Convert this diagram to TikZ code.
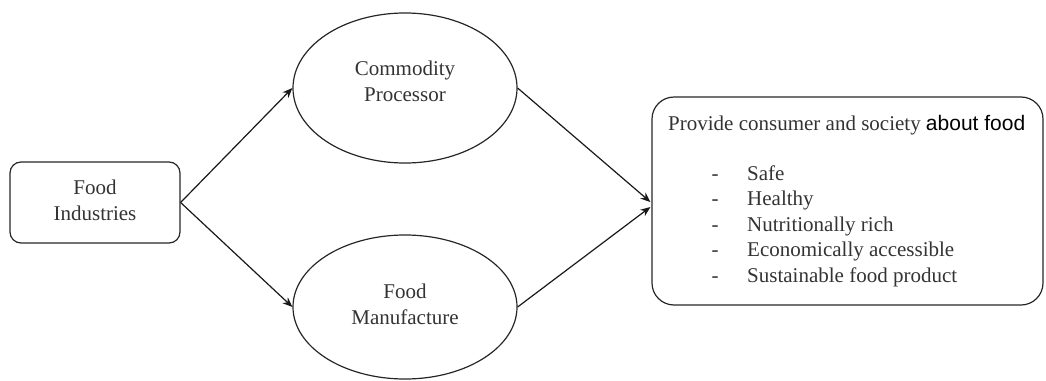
\documentclass[tikz,border=0pt]{standalone}
\usepackage{fontspec}
\setmainfont{Liberation Serif}
\newfontfamily\arialfont{Liberation Sans}
\usetikzlibrary{arrows.meta,calc,shapes.geometric}
\tikzset{
  boxline/.style={draw=black!85, line width=1.2pt},
  rbox/.style={boxline, rectangle, inner sep=0pt},
  ellnode/.style={boxline, ellipse, inner sep=0pt},
  txt/.style={font=\fontsize{21}{26}\selectfont, text=black!80, inner sep=0pt, align=center},
  conn/.style={line width=1.2pt, draw=black!90, -{Stealth[length=10pt,width=8pt]}}
}
\begin{document}
\begin{tikzpicture}[x=1pt,y=-1pt]
\useasboundingbox (0,0) rectangle (1046,380);
% left box
\node[rbox, rounded corners=11pt, minimum width=170pt, minimum height=81pt] (fi) at (95,202.5) {};
\node[txt] (fit) at (95,200) {Food\\Industries};
% ellipses
\node[ellnode, minimum width=224pt, minimum height=150pt] (cp) at (405,88) {};
\node[txt] (cpt) at (405,81) {Commodity\\Processor};
\node[ellnode, minimum width=224pt, minimum height=144pt] (fm) at (405,307) {};
\node[txt] (fmt) at (405,304) {Food\\Manufacture};
% right box
\node[rbox, rounded corners=22pt, minimum width=391pt, minimum height=208pt] (rb) at (847.5,201) {};
\node[txt, anchor=mid west] (title) at (668,128) {Provide consumer and society {\arialfont\color{black}about food}};
\foreach \i/\t in {0/Safe,1/Healthy,2/Nutritionally rich,3/Economically accessible,4/Sustainable food product}{
  \node[txt, anchor=mid] (d\i) at (715,178+25.5*\i) {-};
  \node[txt, anchor=mid west] (it\i) at (747,178+25.5*\i) {\t};
}
% connectors
\coordinate (inA) at ($(rb.west)+(-1,1)$);
\coordinate (inB) at ($(rb.west)+(-1,6)$);
\draw[conn] (fi.east) -- (cp.west);
\draw[conn] (fi.east) -- (fm.west);
\draw[conn] (cp.east) -- (inA);
\draw[conn] (fm.east) -- (inB);
\end{tikzpicture}
\end{document}
